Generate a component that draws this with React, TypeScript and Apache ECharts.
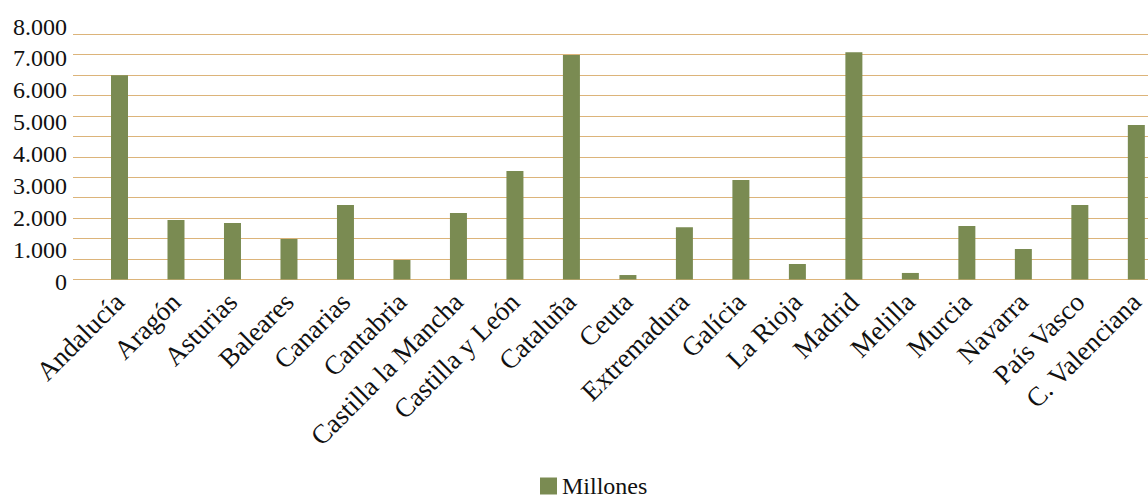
import React, { useEffect, useRef } from "react";
import * as echarts from "echarts";

const categories = [
  "Andalucía", "Aragón", "Asturias", "Baleares", "Canarias", "Cantabria",
  "Castilla la Mancha", "Castilla y León", "Cataluña", "Ceuta", "Extremadura",
  "Galícia", "La Rioja", "Madrid", "Melilla", "Murcia", "Navarra", "País Vasco",
  "C. Valenciana",
];
const millones = [
  6400, 1860, 1770, 1270, 2330, 610, 2080, 3400, 7030, 140, 1640,
  3120, 485, 7120, 205, 1675, 955, 2330, 4840,
];
const yTickLabels = ["0", "1.000", "2.000", "3.000", "4.000", "5.000", "6.000", "7.000", "8.000"];

const FONT = "'Liberation Serif', 'Times New Roman', serif";

export default function App() {
  const ref = useRef<HTMLDivElement>(null);
  useEffect(() => {
    if (!ref.current) return;
    const chart = echarts.init(ref.current, null, { renderer: "svg" });
    chart.setOption({
      animation: false,
      backgroundColor: "#ffffff",
      textStyle: { fontFamily: FONT },
      grid: [
        { left: 119.5, top: 34, width: 1022, height: 245.5 },
        { left: 73, right: 0, top: 34, height: 245.5 },
        { left: 73, right: 0, top: 26.5, height: 255.5 },
      ],
      legend: {
        left: 540,
        top: 474,
        padding: 0,
        itemWidth: 17,
        itemHeight: 17,
        itemGap: 6,
        icon: "rect",
        textStyle: { fontFamily: FONT, fontSize: 24, color: "#111", lineHeight: 20, padding: [0, 0, 0, 0] },
        data: ["Millones"],
      },
      xAxis: [
        {
          type: "category",
          gridIndex: 0,
          data: categories,
          boundaryGap: false,
          axisLine: { show: false },
          axisTick: { show: false },
          axisLabel: {
            rotate: 45,
            interval: 0,
            margin: 18,
            fontFamily: FONT,
            fontSize: 27,
            color: "#111",
          },
        },
        { type: "value", gridIndex: 1, min: 0, max: 1, show: false },
        { type: "value", gridIndex: 2, min: 0, max: 1, show: false },
      ],
      yAxis: [
        { type: "value", gridIndex: 0, min: 0, max: 7690, show: false, splitLine: { show: false } },
        {
          type: "value",
          gridIndex: 1,
          min: 0,
          max: 12,
          interval: 1,
          axisLine: { show: false },
          axisTick: { show: false },
          axisLabel: { show: false },
          splitLine: { show: true, lineStyle: { color: "#dcb47a", width: 1 } },
        },
        {
          type: "value",
          gridIndex: 2,
          min: 0,
          max: 8000,
          interval: 1000,
          axisLine: { show: false },
          axisTick: { show: false },
          splitLine: { show: false },
          axisLabel: {
            margin: 6,
            fontFamily: FONT,
            fontSize: 24,
            color: "#111",
            formatter: (v: number) => yTickLabels[Math.round(v / 1000)] ?? "",
          },
        },
      ],
      series: [
        {
          name: "Millones",
          type: "bar",
          xAxisIndex: 0,
          yAxisIndex: 0,
          data: millones,
          barWidth: 17,
          itemStyle: { color: "#7a8b52" },
        },
      ],
    });
    return () => chart.dispose();
  }, []);
  return (
    <div
      ref={ref}
      style={{ position: "absolute", left: 0, top: 0, width: 1148, height: 498 }}
    />
  );
}
